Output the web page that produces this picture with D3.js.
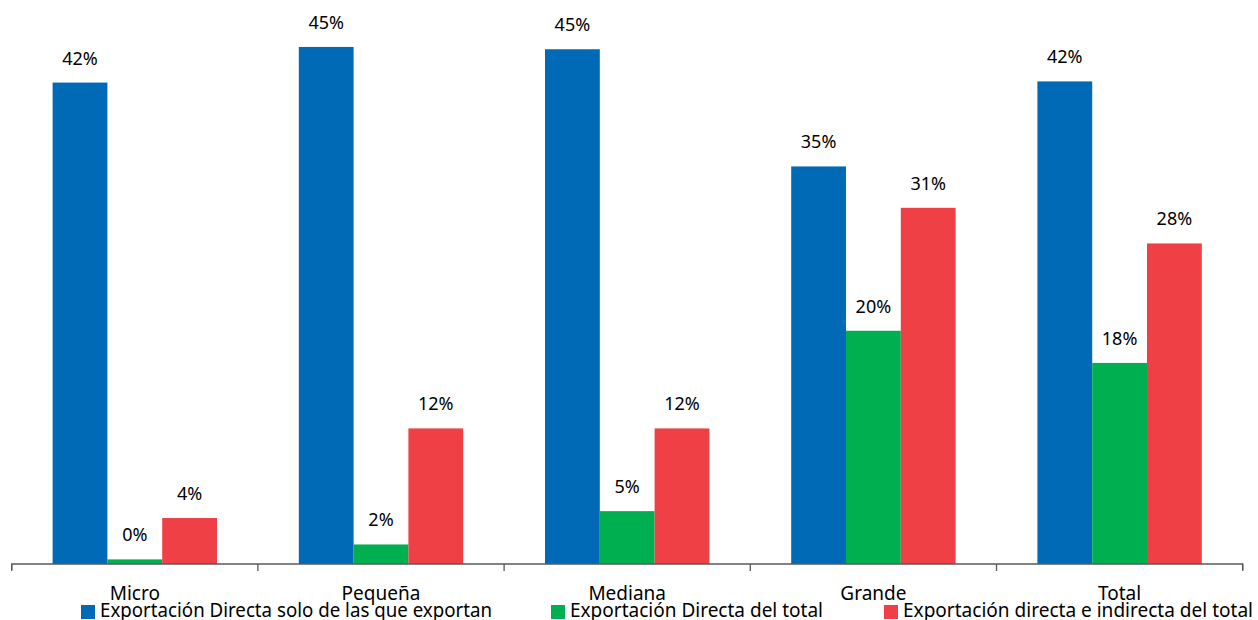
<!DOCTYPE html>
<html><head><meta charset="utf-8">
<script src="https://cdn.jsdelivr.net/npm/d3@7"></script>
<style>body{margin:0;background:#fff;} svg{display:block;font-family:"Noto Sans",sans-serif;}</style>
</head><body><svg id="c" width="1258" height="620"></svg>
<script>
const categories = ["Micro","Pequeña","Mediana","Grande","Total"];
const seriesNames = ["Exportación Directa solo de las que exportan","Exportación Directa del total","Exportación directa e indirecta del total"];
const blueValues = [0.419, 0.450, 0.448, 0.346, 0.420];
const greenValues = [0.004, 0.017, 0.046, 0.203, 0.175];
const redValues = [0.040, 0.118, 0.118, 0.310, 0.279];
const valueLabels = [["42%","45%","45%","35%","42%"],["0%","2%","5%","20%","18%"],["4%","12%","12%","31%","28%"]];
const colors = ["#006AB7","#00AF50","#EF4045"];

const svg = d3.select("#c");
const x = d3.scaleBand().domain(categories).range([11.7, 1242.7]).paddingInner(0).paddingOuter(0);
const inner = d3.scaleBand().domain([0,1,2]).range([40.9, x.bandwidth()-40.9]);
const y = d3.scaleLinear().domain([0, 0.5]).range([564, 564 - 574.5]);
const allSeries = [blueValues, greenValues, redValues];

allSeries.forEach((vals, s) => {
  const g = svg.append("g");
  g.selectAll("rect").data(vals).join("rect")
    .attr("x", (d,i) => x(categories[i]) + inner(s))
    .attr("y", d => y(d))
    .attr("width", inner.bandwidth())
    .attr("height", d => y(0) - y(d))
    .attr("fill", colors[s]);
  g.selectAll("text").data(vals).join("text")
    .attr("x", (d,i) => x(categories[i]) + inner(s) + inner.bandwidth()/2)
    .attr("y", d => y(d) - 18)
    .attr("text-anchor","middle")
    .attr("font-size", 18)
    .attr("fill","#000")
    .text((d,i) => valueLabels[s][i]);
});

const axis = d3.axisBottom(x).tickSize(7).tickFormat("");
const ax = svg.append("g").attr("transform","translate(0,564)").call(axis);
ax.select(".domain").attr("stroke","#595959").attr("stroke-width",1.3).attr("d","M11.7,6V0H1242.7V6");
ax.selectAll(".tick").remove();
const tickPos = d3.range(categories.length+1).map(i => 11.7 + i * x.step());
ax.selectAll("line.t").data(tickPos).join("line").attr("class","t")
  .attr("x1", d=>d).attr("x2", d=>d).attr("y1",0).attr("y2",7)
  .attr("stroke","#595959").attr("stroke-width",1.3);

svg.append("g").selectAll("text").data(categories).join("text")
  .attr("x", d => x(d) + x.bandwidth()/2)
  .attr("y", 600)
  .attr("text-anchor","middle")
  .attr("font-size", 19)
  .attr("fill","#000")
  .text(d => d);

const legendX = [81, 551, 884];
const legendLen = [392, 253, 350];
const lg = svg.append("g");
seriesNames.forEach((n, i) => {
  lg.append("rect").attr("x", legendX[i]).attr("y", 605).attr("width", 14).attr("height", 14).attr("fill", colors[i]);
  lg.append("text").attr("x", legendX[i] + 19).attr("y", 617).attr("font-size", 19)
    .attr("textLength", legendLen[i]).attr("lengthAdjust","spacingAndGlyphs")
    .attr("fill","#000").text(n);
});
</script></body></html>
